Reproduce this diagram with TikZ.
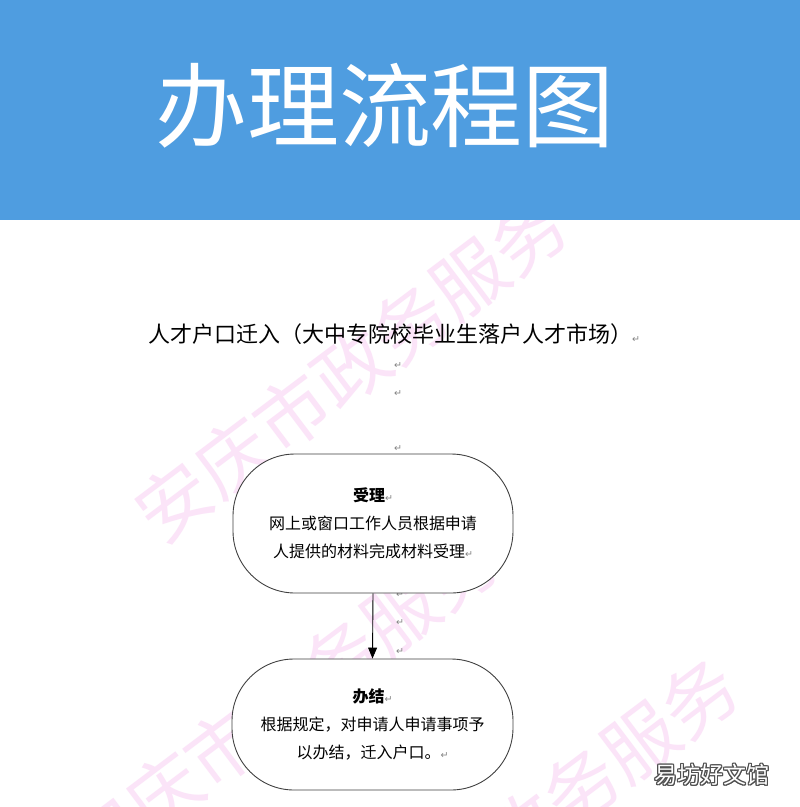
\documentclass[tikz,border=0pt]{standalone}
\usepackage{fontspec}
\usetikzlibrary{arrows.meta}
\newfontfamily\cjk{Noto Sans CJK SC}
\newfontfamily\djv{DejaVu Sans}
\definecolor{hdrblue}{RGB}{79,157,224}
\definecolor{wmpink}{RGB}{251,228,248}
\definecolor{rmkgray}{RGB}{130,130,130}
\definecolor{outgray}{RGB}{80,80,80}
\newcommand\rmk{{\djv\color{rmkgray}\fontsize{9.5}{9.5}\selectfont ↵}}
\begin{document}
\begin{tikzpicture}[x=1pt,y=-1pt,
  wmark/.style={text=wmpink, font=\cjk\fontsize{74}{74}\selectfont, rotate=37, inner sep=0pt},
  titletext/.style={text=white, font=\cjk\fontsize{92}{92}\selectfont, inner sep=0pt},
  subtext/.style={font=\cjk\fontsize{22}{22}\selectfont, inner sep=0pt},
  freemark/.style={font=\djv\fontsize{9.5}{9.5}\selectfont, text=rmkgray, inner sep=0pt},
  stadium/.style={draw=black!75, line width=0.9pt, fill=white, rounded corners=62pt,
     align=center, font=\cjk\fontsize{16}{28}\selectfont, inner sep=0pt},
  arr/.style={-{Triangle[length=11pt,width=9pt]}, line width=0.9pt},
  brand/.style={font=\cjk\fontsize{23}{23}\selectfont, inner sep=0pt}
]
\useasboundingbox (0,0) rectangle (800,807);
\fill[white] (0,0) rectangle (800,807);
% watermarks
\begin{scope}
\clip (0,0) rectangle (800,807);
\node[wmark] (w1) at (351,368) {安庆市政务服务};
\node[wmark] (w2) at (282,703) {安庆市政务服务};
\node[wmark] (w3) at (522,831) {安庆市政务服务};
\end{scope}
% header
\fill[hdrblue] (0,0) rectangle (800,220);
\node[titletext] (title) at (385,106) {办理流程图};
% subtitle
\node[subtext, anchor=west] (sub) at (148,334) {人才户口迁入（大中专院校毕业生落户人才市场）\rmk};
% free paragraph marks
\node[freemark] (r1) at (398,366) {↵};
\node[freemark] (r2) at (398,394) {↵};
\node[freemark] (r3) at (398,449) {↵};
\node[freemark] (r4) at (400,595) {↵};
\node[freemark] (r5) at (400,623) {↵};
\node[freemark] (r6) at (400,652) {↵};
% boxes
\node[stadium, minimum width=280pt, minimum height=139pt] (b1) at (373,523.5)
  {{\bfseries 受理}\rmk\\网上或窗口工作人员根据申请\\人提供的材料完成材料受理\rmk};
\node[stadium, minimum width=281pt, minimum height=131pt] (b2) at (372.5,724.5)
  {{\bfseries 办结}\rmk\\根据规定，对申请人申请事项予\\以办结，迁入户口。\rmk};
\draw[arr] (b1.south) -- (b2.north);
% brand mark
\coordinate (bc) at (712,775);
\foreach \a in {0,30,...,330}
  \node[brand, text=outgray] at ([shift={(\a:1.1)}]bc) {易坊好文馆};
\node[brand, text=white] (brandtext) at (bc) {易坊好文馆};
\end{tikzpicture}
\end{document}
